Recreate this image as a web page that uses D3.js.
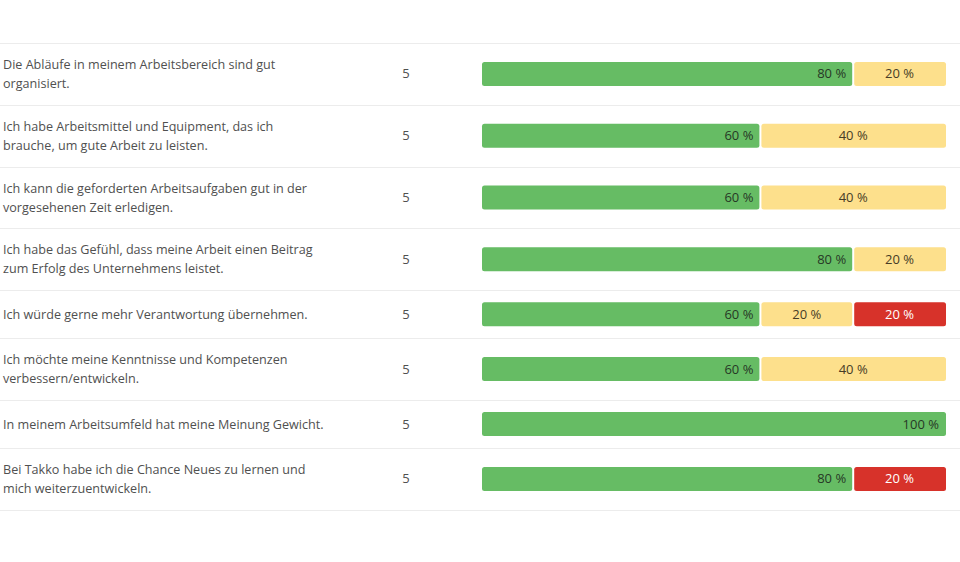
<!DOCTYPE html>
<html>
<head>
<meta charset="utf-8">
<script src="https://cdn.jsdelivr.net/npm/d3@7"></script>
<style>
  body { margin: 0; background: #fff; }
  svg { display: block; }
</style>
</head>
<body>
<div id="chart"></div>
<script>
// statements, each split in the lines shown in the picture
const questions = [
  ["Die Abläufe in meinem Arbeitsbereich sind gut", "organisiert."],
  ["Ich habe Arbeitsmittel und Equipment, das ich", "brauche, um gute Arbeit zu leisten."],
  ["Ich kann die geforderten Arbeitsaufgaben gut in der", "vorgesehenen Zeit erledigen."],
  ["Ich habe das Gefühl, dass meine Arbeit einen Beitrag", "zum Erfolg des Unternehmens leistet."],
  ["Ich würde gerne mehr Verantwortung übernehmen."],
  ["Ich möchte meine Kenntnisse und Kompetenzen", "verbessern/entwickeln."],
  ["In meinem Arbeitsumfeld hat meine Meinung Gewicht."],
  ["Bei Takko habe ich die Chance Neues zu lernen und", "mich weiterzuentwickeln."]
];
const counts = [5, 5, 5, 5, 5, 5, 5, 5];
// share of answers in percent
const agree    = [80, 60, 60, 80, 60, 60, 100, 80];
const neutral  = [20, 40, 40, 20, 20, 40, 0, 0];
const disagree = [0, 0, 0, 0, 20, 0, 0, 20];

const width = 960, height = 562;
const topY = 43;
const rowH = lines => lines.length > 1 ? 61.8 : 48;

const svg = d3.select("#chart").append("svg")
  .attr("width", width)
  .attr("height", height);

const xScale = d3.scaleLinear().domain([0, 100]).range([482, 946]);
const colors = ["#66bc64", "#fde08c", "#d7322a"];
const textColors = ["#263826", "#463c26", "#ffffff"];

// row offsets
let y0 = topY;
const rows = questions.map((q, i) => {
  const h = rowH(q);
  const r = { i, q, y: y0, h, mid: y0 + h / 2 };
  y0 += h;
  return r;
});

// separator lines
svg.append("g").selectAll("line")
  .data([topY].concat(rows.map(r => r.y + r.h)))
  .enter().append("line")
  .attr("x1", 0).attr("x2", width)
  .attr("y1", d => Math.round(d) + 0.5).attr("y2", d => Math.round(d) + 0.5)
  .attr("stroke", "#ececec")
  .attr("stroke-width", 1);

const row = svg.append("g").selectAll("g")
  .data(rows)
  .enter().append("g")
  .attr("transform", d => `translate(0, ${d.mid})`);

row.append("text")
  .attr("x", 3)
  .attr("font-family", "'Open Sans', sans-serif")
  .attr("font-size", 12.6)
  .attr("fill", "#505050")
  .selectAll("tspan")
  .data(d => d.q.map((t, k) => ({ t, k, n: d.q.length })))
  .enter().append("tspan")
  .attr("x", 3)
  .attr("y", d => (d.k - (d.n - 1) / 2) * 19 + 4.5)
  .text(d => d.t);

row.append("text")
  .attr("x", 406)
  .attr("y", 4.5)
  .attr("text-anchor", "middle")
  .attr("font-family", "'Open Sans', sans-serif")
  .attr("font-size", 13)
  .attr("fill", "#505050")
  .text(d => counts[d.i]);

// stacked segments
const segs = row.selectAll("g.seg")
  .data(d => {
    const vals = [agree[d.i], neutral[d.i], disagree[d.i]];
    let acc = 0;
    const out = [];
    vals.forEach((v, k) => {
      if (v > 0) out.push({ k, v, start: acc, end: acc + v });
      acc += v;
    });
    out.forEach((s, j) => { s.first = j === 0; s.last = j === out.length - 1; });
    return out;
  })
  .enter().append("g").attr("class", "seg");

segs.append("rect")
  .attr("x", d => xScale(d.start) + (d.first ? 0 : 1))
  .attr("width", d => xScale(d.end) - xScale(d.start) - (d.first ? 0 : 1) - (d.last ? 0 : 1))
  .attr("y", -12)
  .attr("height", 24)
  .attr("rx", 2.5)
  .attr("fill", d => colors[d.k]);

segs.append("text")
  .attr("x", d => d.k === 0 ? xScale(d.end) - 7 : (xScale(d.start) + xScale(d.end)) / 2)
  .attr("y", 4.5)
  .attr("text-anchor", d => d.k === 0 ? "end" : "middle")
  .attr("font-family", "'Open Sans', sans-serif")
  .attr("font-size", 13)
  .attr("fill", d => textColors[d.k])
  .text(d => d.v + " %");
</script>
</body>
</html>
